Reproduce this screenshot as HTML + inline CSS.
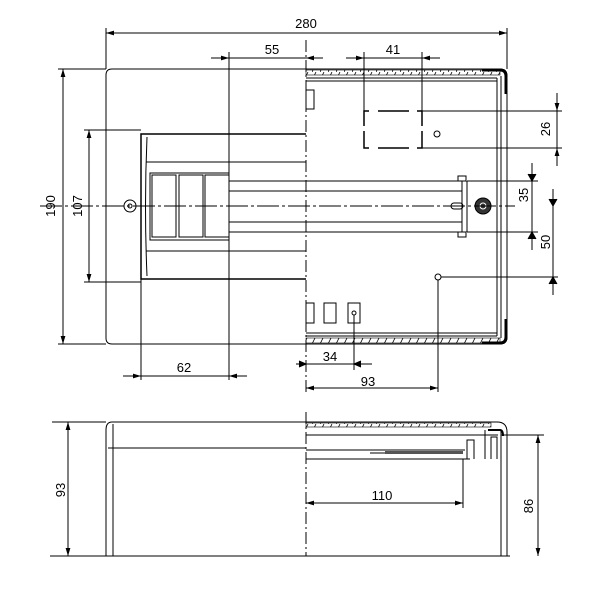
<!DOCTYPE html>
<html><head><meta charset="utf-8"><style>
html,body{margin:0;padding:0;background:#fff;}
svg{display:block}
text{font-family:"Liberation Sans",sans-serif;font-size:13px;fill:#000}
</style></head><body>
<svg width="600" height="600" viewBox="0 0 600 600" xmlns="http://www.w3.org/2000/svg">
<defs>
<marker id="a" viewBox="0 0 10 6" refX="10" refY="3" markerWidth="8" markerHeight="5" orient="auto-start-reverse"><path d="M0,0L10,3L0,6z" fill="#000"/></marker>
<pattern id="h" width="8" height="8" patternUnits="userSpaceOnUse"><path d="M0,8L4,0" stroke="#000" stroke-width="0.8"/></pattern>
</defs>
<g fill="none" stroke="#000" stroke-width="1">
<!-- TOP VIEW -->
<path d="M306,69 H112 Q106,69 106,75 V338 Q106,344 112,344 H306"/>
<!-- right half box -->
<path d="M306,69 H500 Q507,69 507,76 V337 Q507,344 500,344 H306"/>
<rect x="306" y="70" width="194" height="5" fill="url(#h)" stroke-width="0.6"/>
<rect x="306" y="338" width="194" height="5" fill="url(#h)" stroke-width="0.6"/>
<line x1="306" y1="78" x2="497" y2="78"/><line x1="306" y1="81" x2="497" y2="81"/>
<line x1="306" y1="333" x2="497" y2="333"/><line x1="306" y1="336" x2="497" y2="336"/>
<line x1="497" y1="78" x2="497" y2="336"/><line x1="501" y1="76" x2="501" y2="338"/>
<path d="M482,70 H500 Q506,70 506,76 V94" stroke-width="3"/>
<path d="M482,343 H500 Q506,343 506,337 V319" stroke-width="3"/>
<line x1="306" y1="40" x2="306" y2="392" stroke-dasharray="12,3,2,3"/>
<!-- module frame -->
<path d="M306,134 H141 V279 H306" stroke-width="1.5"/>
<path d="M147,137 Q144,206 147,276"/>
<line x1="146" y1="162" x2="306" y2="162"/>
<line x1="146" y1="251" x2="306" y2="251"/>
<rect x="150" y="173" width="79" height="67"/>
<rect x="152" y="175" width="24" height="62"/><rect x="179" y="175" width="24" height="62"/><rect x="205" y="175" width="24" height="62"/>
<line x1="229" y1="181" x2="462" y2="181"/><line x1="229" y1="191" x2="462" y2="191"/>
<line x1="229" y1="222" x2="462" y2="222"/><line x1="229" y1="232" x2="462" y2="232"/>
<line x1="462" y1="181" x2="462" y2="232"/><line x1="467" y1="181" x2="467" y2="232"/>
<rect x="458" y="176" width="8" height="5"/><rect x="458" y="232" width="8" height="5"/>
<rect x="451" y="203" width="12" height="6" rx="3"/>
<circle cx="483" cy="206" r="8" fill="#333"/><circle cx="483" cy="206" r="3" stroke="#fff"/>
<line x1="40" y1="206" x2="515" y2="206" stroke-dasharray="22,3,3,3"/>
<circle cx="130" cy="206" r="6"/><circle cx="130" cy="206" r="2"/>
<!-- clips -->
<rect x="306" y="90" width="8" height="19"/><rect x="306" y="303" width="8" height="20"/>
<rect x="324" y="303" width="12" height="20"/><rect x="348" y="303" width="12" height="20"/>
<circle cx="354" cy="313" r="2"/>
<!-- knockout -->
<path d="M369,111H364V126M364,131V148H369M378,111H409M378,148H409M417,111H422V126M422,131V148H417" stroke-width="1.5"/>
<circle cx="437" cy="134" r="3"/>
<circle cx="438" cy="277" r="3"/>
<!-- dims top -->
<line x1="106" y1="28" x2="106" y2="69"/><line x1="507" y1="28" x2="507" y2="69"/>
<line x1="106" y1="33" x2="507" y2="33" marker-start="url(#a)" marker-end="url(#a)"/>
<line x1="229" y1="52" x2="229" y2="380"/>
<line x1="211" y1="58" x2="229" y2="58" marker-end="url(#a)"/><line x1="323" y1="58" x2="306" y2="58" marker-end="url(#a)"/>
<line x1="229" y1="58" x2="306" y2="58"/>
<line x1="364" y1="52" x2="364" y2="111"/><line x1="422" y1="52" x2="422" y2="111"/>
<line x1="346" y1="58" x2="364" y2="58" marker-end="url(#a)"/><line x1="440" y1="58" x2="422" y2="58" marker-end="url(#a)"/>
<line x1="364" y1="58" x2="422" y2="58"/>
<line x1="58" y1="69" x2="106" y2="69"/><line x1="58" y1="344" x2="106" y2="344"/>
<line x1="63" y1="69" x2="63" y2="344" marker-start="url(#a)" marker-end="url(#a)"/>
<line x1="84" y1="130" x2="141" y2="130"/><line x1="84" y1="282" x2="141" y2="282"/>
<line x1="89" y1="130" x2="89" y2="282" marker-start="url(#a)" marker-end="url(#a)"/>
<line x1="141" y1="279" x2="141" y2="380"/>
<line x1="123" y1="376" x2="141" y2="376" marker-end="url(#a)"/><line x1="247" y1="376" x2="229" y2="376" marker-end="url(#a)"/>
<line x1="141" y1="376" x2="229" y2="376"/>
<line x1="422" y1="111" x2="562" y2="111"/><line x1="422" y1="148" x2="562" y2="148"/>
<line x1="557" y1="93" x2="557" y2="111" marker-end="url(#a)"/><line x1="557" y1="166" x2="557" y2="148" marker-end="url(#a)"/>
<line x1="557" y1="111" x2="557" y2="148"/>
<line x1="467" y1="181" x2="538" y2="181"/><line x1="467" y1="232" x2="538" y2="232"/>
<line x1="532" y1="163" x2="532" y2="250"/>
<path d="M528,174L532,181L536,174M528,239L532,232L536,239" fill="#000"/>
<line x1="441" y1="277" x2="558" y2="277"/>
<line x1="553" y1="189" x2="553" y2="295"/>
<path d="M549,199L553,206L557,199M549,284L553,277L557,284" fill="#000"/>
<line x1="354" y1="315" x2="354" y2="370"/><line x1="438" y1="280" x2="438" y2="392"/>
<line x1="296" y1="364" x2="372" y2="364"/>
<path d="M299,361L306,364L299,367M361,361L354,364L361,367" fill="#000"/>
<line x1="306" y1="388" x2="438" y2="388" marker-start="url(#a)" marker-end="url(#a)"/>
<!-- BOTTOM VIEW -->
<path d="M306,422 H112 Q106,422 106,430 V556"/>
<line x1="113" y1="424" x2="113" y2="556"/>
<line x1="108" y1="448" x2="306" y2="448"/>
<line x1="50" y1="556" x2="510" y2="556"/>
<line x1="306" y1="412" x2="306" y2="556" stroke-dasharray="12,3,2,3"/>
<path d="M306,422 H497 Q507,422 507,432 V556"/>
<rect x="306" y="423" width="185" height="4" fill="url(#h)" stroke-width="0.6"/>
<line x1="306" y1="435" x2="498" y2="435"/>
<line x1="306" y1="450" x2="465" y2="450"/><line x1="306" y1="459" x2="470" y2="459"/>
<line x1="370" y1="453" x2="463" y2="453"/>
<rect x="385" y="451" width="78" height="3" fill="#555" stroke="none"/>
<path d="M467,459 V440 H474 V459"/>
<path d="M485,459 V430 M491,459 V437 H497 V459"/>
<line x1="501" y1="430" x2="501" y2="556"/>
<path d="M488,430 H500 Q503,430 503,436" stroke-width="2"/>
<line x1="463" y1="459" x2="463" y2="508"/>
<line x1="306" y1="503" x2="463" y2="503" marker-start="url(#a)" marker-end="url(#a)"/>
<line x1="52" y1="422" x2="106" y2="422"/>
<line x1="68" y1="422" x2="68" y2="556" marker-start="url(#a)" marker-end="url(#a)"/>
<line x1="501" y1="435" x2="544" y2="435"/>
<line x1="538" y1="435" x2="538" y2="556" marker-start="url(#a)" marker-end="url(#a)"/>
</g>
<text x="306" y="28" text-anchor="middle">280</text>
<text x="272" y="54" text-anchor="middle">55</text>
<text x="393" y="54" text-anchor="middle">41</text>
<text x="184" y="372" text-anchor="middle">62</text>
<text x="330" y="361" text-anchor="middle">34</text>
<text x="368" y="386" text-anchor="middle">93</text>
<text x="382" y="500" text-anchor="middle">110</text>
<text transform="translate(55,206) rotate(-90)" text-anchor="middle">190</text>
<text transform="translate(82,206) rotate(-90)" text-anchor="middle">107</text>
<text transform="translate(550,129) rotate(-90)" text-anchor="middle">26</text>
<text transform="translate(528,195) rotate(-90)" text-anchor="middle">35</text>
<text transform="translate(550,242) rotate(-90)" text-anchor="middle">50</text>
<text transform="translate(65,490) rotate(-90)" text-anchor="middle">93</text>
<text transform="translate(533,506) rotate(-90)" text-anchor="middle">86</text>
</svg>
</body></html>
